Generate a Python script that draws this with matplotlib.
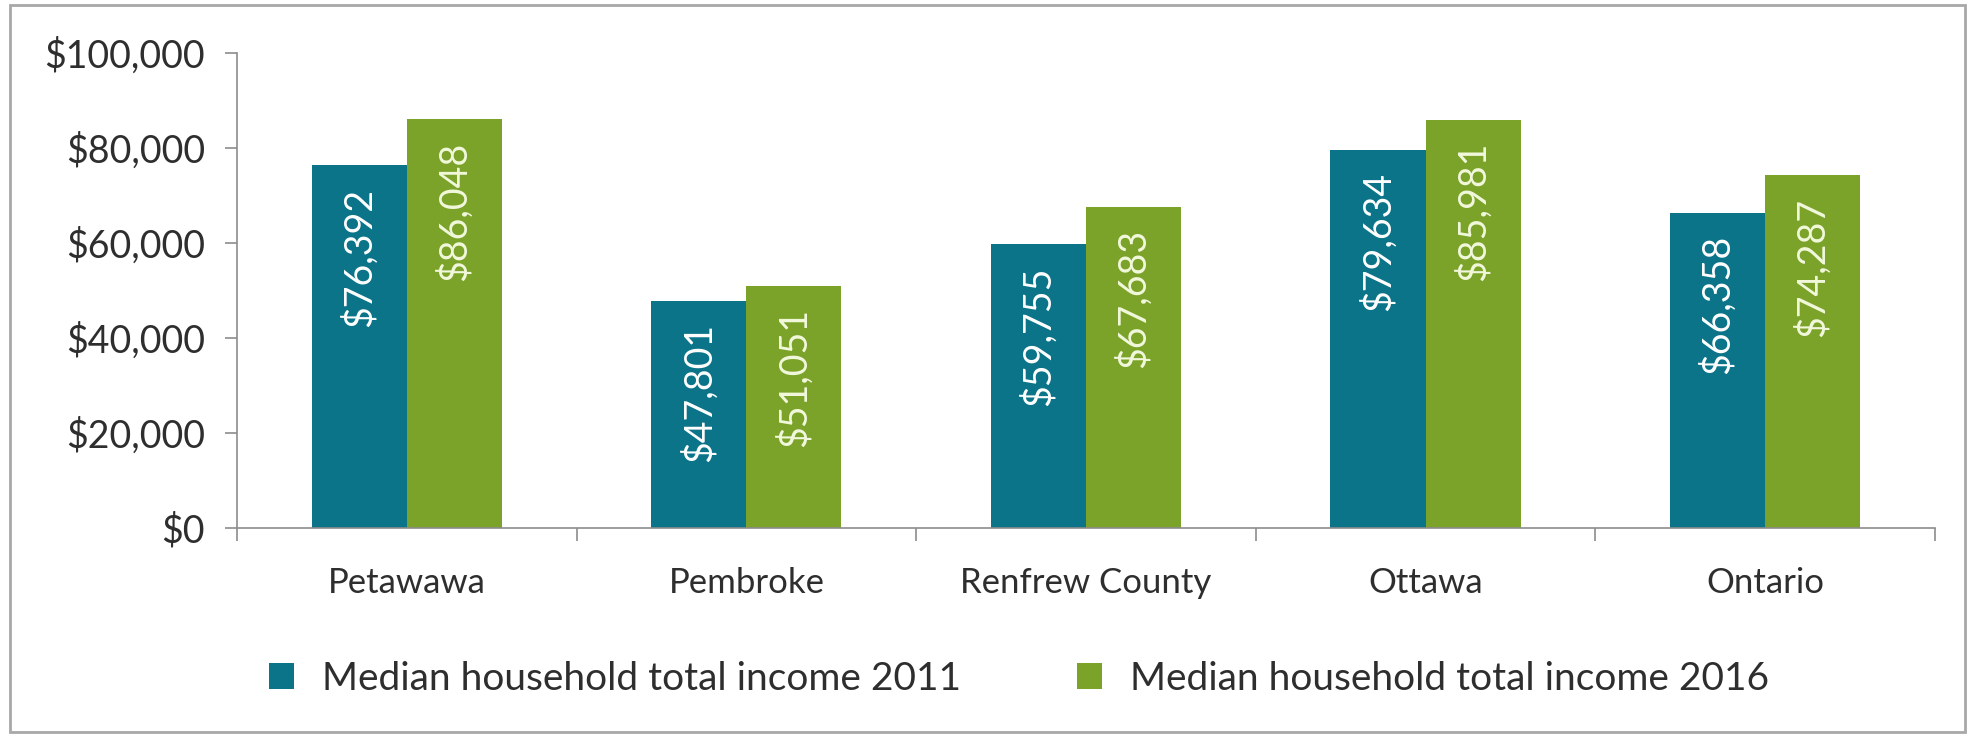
import numpy as np
import matplotlib.pyplot as plt
from matplotlib.ticker import FuncFormatter
from matplotlib.patches import Rectangle

plt.rcParams['font.family'] = ['Lato', 'DejaVu Sans']

# data
places = ['Petawawa', 'Pembroke', 'Renfrew County', 'Ottawa', 'Ontario']
income_2011 = [76392, 47801, 59755, 79634, 66358]
income_2016 = [86048, 51051, 67683, 85981, 74287]
series_names = ['Median household total income 2011', 'Median household total income 2016']

teal = '#0B7489'
green = '#7BA32A'
grey = '#8C8C8C'
txt = '#2E2E2E'

fig = plt.figure(figsize=(19.67, 7.37), dpi=100)
ax = fig.add_axes([0.1205, 0.2835, 0.8632, 0.6445])

x = np.arange(len(places))
w = 0.28
b1 = ax.bar(x - w / 2, income_2011, w, color=teal, label=series_names[0])
b2 = ax.bar(x + w / 2, income_2016, w, color=green, label=series_names[1])

# value labels, rotated, near the top inside each bar
for bars, vals, col in [(b1, income_2011, 'white'), (b2, income_2016, '#F2F8DC')]:
    for r, v in zip(bars, vals):
        ax.annotate(f'${v:,}', (r.get_x() + r.get_width() / 2, v),
                    xytext=(0, -16), textcoords='offset points',
                    rotation=90, ha='center', va='top',
                    color=col, fontsize=27)

ax.set_ylim(0, 100000)
ax.set_yticks(np.arange(0, 100001, 20000))
ax.yaxis.set_major_formatter(FuncFormatter(lambda v, p: f'${v:,.0f}'))
ax.set_xlim(-0.5, len(places) - 0.5)
ax.set_xticks(x)
ax.set_xticklabels(places)
ax.set_xticks(np.arange(-0.5, len(places)), minor=True)
ax.tick_params(axis='x', which='major', length=0, pad=28, labelsize=25, labelcolor=txt)
ax.tick_params(axis='x', which='minor', length=9, color=grey, width=1.2)
ax.tick_params(axis='y', length=9, color=grey, width=1.2, pad=14, labelsize=27, labelcolor=txt)

for s in ['top', 'right']:
    ax.spines[s].set_visible(False)
for s in ['left', 'bottom']:
    ax.spines[s].set_color(grey)
    ax.spines[s].set_linewidth(1.2)

fig.legend(handles=[b1, b2], loc='center', bbox_to_anchor=(0.518, 0.079), ncol=2,
           frameon=False, fontsize=28, handlelength=0.65, handleheight=0.65,
           handletextpad=0.7, columnspacing=3.0, labelcolor=txt)

# outer frame
fig.patches.append(Rectangle((0.005, 0.007), 0.994, 0.986, transform=fig.transFigure,
                             fill=False, edgecolor='#A8A8A8', linewidth=2))

fig.savefig('out.png', dpi=100)
